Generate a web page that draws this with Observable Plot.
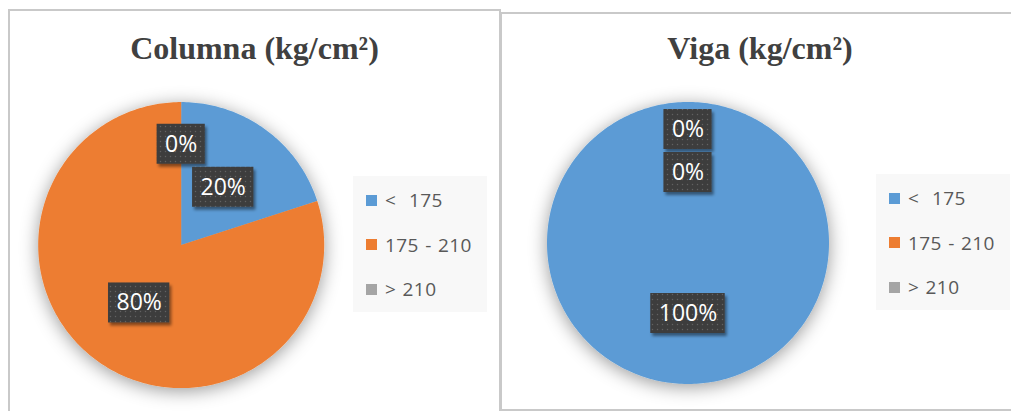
<!DOCTYPE html>
<html>
<head>
<meta charset="utf-8">
<script src="https://cdn.jsdelivr.net/npm/d3@7"></script>
<script src="https://cdn.jsdelivr.net/npm/@observablehq/plot@0.6"></script>
<style>
  html, body { margin: 0; padding: 0; background: #fff; }
  #page { position: relative; width: 1011px; height: 411px; overflow: hidden; }
  .panel { position: absolute; box-sizing: border-box; border: 2px solid #c9c9c9; background: #fff; }
  .title { position: absolute; text-align: center; font: bold 32px "Liberation Serif", "Times New Roman", serif;
           color: #404040; line-height: 32px; white-space: nowrap; }
  .legend-box { position: absolute; width: 134px; height: 136px; background: #f8f8f8; box-sizing: border-box;
                padding: 2px 0 0 13px; }
  .legend-box .lg-swatches { font-family: "Open Sans", sans-serif !important; font-size: 19px !important;
                color: #595959 !important; margin: 0 !important; word-spacing: 1px; letter-spacing: 0.4px; }
  .legend-box .lg-swatch { display: flex !important; align-items: center !important; height: 44.5px;
                padding: 0 !important; margin: 0 !important; }
  .legend-box .lg-swatch, .legend-box .lg-swatch * { white-space: pre !important; overflow: visible !important; }
  .legend-box .lg-swatch svg { margin-right: 8px !important; flex-shrink: 0; }
  svg.pie { position: absolute; overflow: visible; }
</style>
</head>
<body>
<div id="page"></div>
<script>
// Strength classes and their colours
const categories = ["<  175", "175 - 210", "> 210"];
const sliceColors = ["#5B9BD5", "#ED7D31", "#A5A5A5"];

// Chart titles
const titles = ["Columna (kg/cm²)", "Viga (kg/cm²)"];

// Share of elements per class, in percent
const columnaPct = [20, 80, 0];
const vigaPct = [100, 0, 0];

const series = [columnaPct, vigaPct];

// Page geometry of each panel: frame, pie centre/radius, legend box
const layout = [
  {left: 8, top: 9, width: 493, height: 420, cx: 180.7, cy: 244.6, r: 143, legendLeft: 353, legendTop: 176, titleTop: 32},
  {left: 500, top: 12, width: 520, height: 399, cx: 687.5, cy: 242.5, r: 141, legendLeft: 876, legendTop: 174, titleTop: 32}
];

const labelFont = "23px 'Open Sans'";
const labelHeight = 40;   // px
const labelPad = 8;       // px each side

const measureCtx = document.createElement("canvas").getContext("2d");
measureCtx.font = labelFont;
const textWidth = (s) => measureCtx.measureText(s).width;

// Polygon outline of each slice, in unit-circle coordinates (0 rad = 12 o'clock, clockwise)
function slicePolygons(arcs) {
  const pts = [];
  arcs.forEach((a, i) => {
    const span = a.endAngle - a.startAngle;
    if (span <= 0) return;
    const cat = categories[i];
    const n = Math.max(2, Math.ceil(span / (Math.PI / 180)));
    pts.push({cat, x: 0, y: 0});
    for (let k = 0; k <= n; k++) {
      const t = a.startAngle + span * k / n;
      pts.push({cat, x: Math.sin(t), y: Math.cos(t)});
    }
    pts.push({cat, x: 0, y: 0});
  });
  return pts;
}

// Data label boxes: halfway along each slice's bisector; empty slices are
// stacked outward so they clear labels already placed.
function sliceLabels(arcs, r) {
  const k = 1 / r;                 // data units per pixel
  const hh = labelHeight / 2 * k;
  const gap = 3 * k;
  const items = arcs.map((a) => {
    const m = (a.startAngle + a.endAngle) / 2;
    const text = `${a.value}%`;
    return {
      text, hh, zero: a.value === 0,
      hw: (textWidth(text) + 2 * labelPad) / 2 * k,
      dir: Math.cos(m) >= 0 ? 1 : -1,
      x: 0.5 * Math.sin(m), y: 0.5 * Math.cos(m)
    };
  });
  const placed = items.filter((d) => !d.zero);
  const overlaps = (a, b) => Math.abs(a.x - b.x) < a.hw + b.hw && Math.abs(a.y - b.y) < a.hh + b.hh + gap * 0.5;
  items.filter((d) => d.zero).reverse().forEach((d) => {
    let guard = 0;
    let hit = placed.find((p) => overlaps(d, p));
    while (hit && guard++ < 20) {
      d.y = hit.y + d.dir * (hit.hh + d.hh + gap);
      hit = placed.find((p) => overlaps(d, p));
    }
    placed.push(d);
  });
  return items;
}

function addShadow(defs, id, dx, dy, blur, opacity) {
  const f = defs.append("filter").attr("id", id)
    .attr("x", "-30%").attr("y", "-30%").attr("width", "160%").attr("height", "160%");
  f.append("feDropShadow").attr("dx", dx).attr("dy", dy).attr("stdDeviation", blur)
    .attr("flood-color", "#000").attr("flood-opacity", opacity);
}

const page = document.getElementById("page");

series.forEach((values, i) => {
  const L = layout[i];

  const frame = document.createElement("div");
  frame.className = "panel";
  Object.assign(frame.style, {left: L.left + "px", top: L.top + "px", width: L.width + "px", height: L.height + "px"});
  page.appendChild(frame);

  const title = document.createElement("div");
  title.className = "title";
  title.textContent = titles[i];
  Object.assign(title.style, {left: L.left + "px", width: L.width + "px", top: L.titleTop + "px"});
  page.appendChild(title);

  const arcs = d3.pie().sort(null).value((d) => d)(values);
  const polys = slicePolygons(arcs);
  const labels = sliceLabels(arcs, L.r);
  const patternId = `label-dots-${i}`;

  const cxr = L.cx - L.left, cyr = L.cy - L.top;
  const chart = Plot.plot({
    width: L.width,
    height: L.height,
    marginLeft: cxr - L.r,
    marginRight: L.width - (cxr + L.r),
    marginTop: cyr - L.r,
    marginBottom: L.height - (cyr + L.r),
    x: {domain: [-1, 1], axis: null},
    y: {domain: [-1, 1], axis: null},
    color: {domain: categories, range: sliceColors},
    marks: [
      Plot.line(polys, {x: "x", y: "y", z: "cat", fill: "cat", stroke: "none", ariaDescription: "slices"}),
      Plot.rect(labels, {
        x1: (d) => d.x - d.hw, x2: (d) => d.x + d.hw,
        y1: (d) => d.y - d.hh, y2: (d) => d.y + d.hh,
        fill: `url(#${patternId})`, ariaDescription: "label-boxes"
      }),
      Plot.text(labels, {
        x: "x", y: "y", text: "text", fill: "white",
        fontSize: 23, fontFamily: "'Open Sans', sans-serif", ariaDescription: "label-text"
      })
    ]
  });

  // dotted dark fill for the label boxes, and soft shadows
  const defs = d3.select(chart).insert("defs", ":first-child");
  const pat = defs.append("pattern").attr("id", patternId)
    .attr("width", 5).attr("height", 5).attr("patternUnits", "userSpaceOnUse");
  pat.append("rect").attr("width", 5).attr("height", 5).attr("fill", "#3d3d3d");
  pat.append("circle").attr("cx", 2.5).attr("cy", 2.5).attr("r", 0.75).attr("fill", "#626262");
  addShadow(defs, `pie-shadow-${i}`, 0, 3, 9, 0.4);
  addShadow(defs, `box-shadow-${i}`, 2, 3, 1.5, 0.45);

  d3.select(chart).select('g[aria-description="slices"]').attr("filter", `url(#pie-shadow-${i})`);
  d3.select(chart).select('g[aria-description="label-boxes"]').attr("filter", `url(#box-shadow-${i})`);

  chart.classList.add("pie");
  Object.assign(chart.style, {left: L.left + "px", top: L.top + "px", maxWidth: "none", background: "transparent"});
  page.appendChild(chart);

  const legendBox = document.createElement("div");
  legendBox.className = "legend-box";
  Object.assign(legendBox.style, {left: L.legendLeft + "px", top: L.legendTop + "px"});
  legendBox.appendChild(chart.legend("color", {legend: "swatches", columns: 1, swatchSize: 11, className: "lg"}));
  page.appendChild(legendBox);
});
</script>
</body>
</html>
